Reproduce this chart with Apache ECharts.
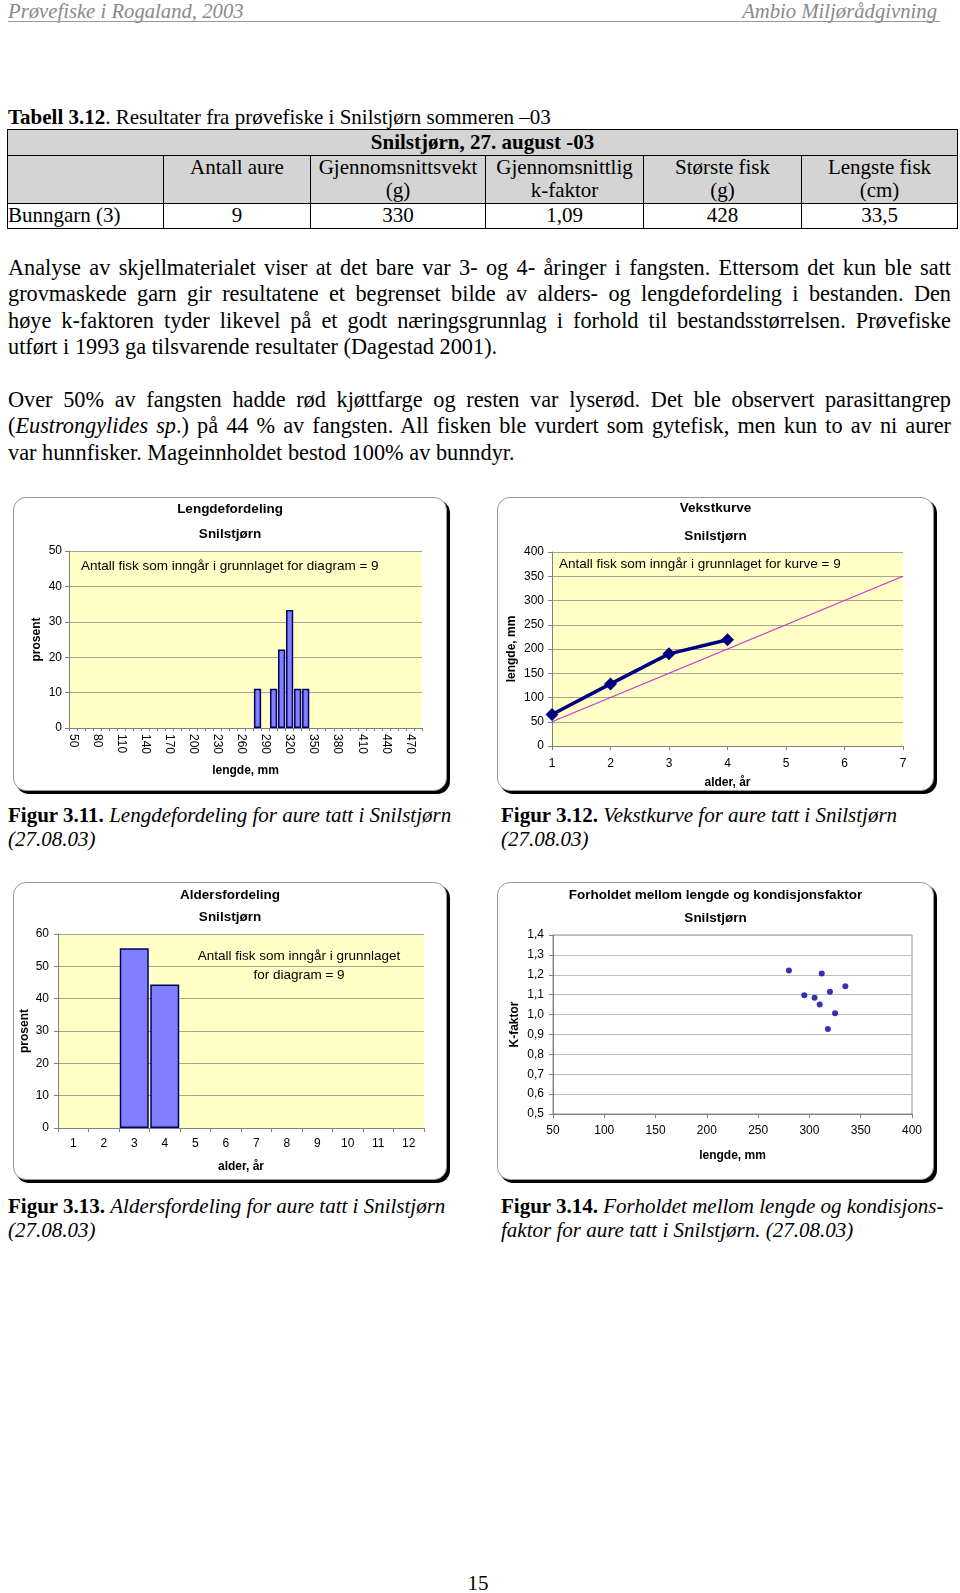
<!DOCTYPE html>
<html>
<head>
<meta charset="utf-8">
<script src="https://cdn.jsdelivr.net/npm/echarts/dist/echarts.min.js"></script>
<style>
  html, body { margin:0; padding:0; background:#fff; }
  body { width:960px; height:1593px; position:relative; overflow:hidden; font-family:"Liberation Serif","Times New Roman",serif; color:#000; }
  .abs { position:absolute; }
  .hdr { top:0; font-size:20.7px; font-style:italic; color:#8a8a8a; line-height:22px; }
  .hline { left:8px; top:21px; width:932px; height:0; border-top:1.5px solid #9a9a9a; }
  .txt { font-size:22.3px; line-height:26.4px; }
  .tcap { font-size:21px; line-height:26px; }
  .jl { text-align:justify; text-align-last:justify; white-space:nowrap; }
  table.t { border-collapse:collapse; table-layout:fixed; font-size:21px; }
  table.t td { border:1px solid #000; padding:0; text-align:center; vertical-align:top; line-height:23px; }
  .g { background:#d4d4d4; }
  .box { position:absolute; border:1px solid #9a9a9a; border-radius:13px; box-shadow:3px 3px 0 0 #000; background:#fff; }
  .cap { font-size:21px; line-height:24px; }
</style>
</head>
<body>
<div class="abs hdr" style="left:8px;">Prøvefiske i Rogaland, 2003</div>
<div class="abs hdr" style="right:23px;">Ambio Miljørådgivning</div>
<div class="abs hline"></div>

<div class="abs tcap" style="left:8px; top:104px;"><b>Tabell 3.12</b>. Resultater fra prøvefiske i Snilstjørn sommeren –03</div>

<table class="t abs" style="left:7px; top:129px; width:950px;">
  <colgroup><col style="width:156px"><col style="width:147px"><col style="width:175px"><col style="width:158px"><col style="width:158px"><col style="width:156px"></colgroup>
  <tr style="height:26px"><td class="g" colspan="6" style="font-weight:bold; line-height:25px;">Snilstjørn, 27. august -03</td></tr>
  <tr style="height:48px"><td class="g"></td><td class="g">Antall aure</td><td class="g">Gjennomsnittsvekt<br>(g)</td><td class="g">Gjennomsnittlig<br>k-faktor</td><td class="g">Største fisk<br>(g)</td><td class="g">Lengste fisk<br>(cm)</td></tr>
  <tr style="height:25px"><td style="text-align:left">Bunngarn (3)</td><td>9</td><td>330</td><td>1,09</td><td>428</td><td>33,5</td></tr>
</table>

<div class="abs txt" style="left:8px; top:255px; width:943px;">
  <div class="jl"><span>Analyse av skjellmaterialet viser at det bare var 3- og 4- åringer i fangsten. Ettersom det kun ble satt</span></div>
  <div class="jl"><span>grovmaskede garn gir resultatene et begrenset bilde av alders- og lengdefordeling i bestanden. Den</span></div>
  <div class="jl"><span>høye k-faktoren tyder likevel på et godt næringsgrunnlag i forhold til bestandsstørrelsen. Prøvefiske</span></div>
  <div style="white-space:nowrap">utført i 1993 ga tilsvarende resultater (Dagestad 2001).</div>
</div>
<div class="abs txt" style="left:8px; top:387px; width:943px;">
  <div class="jl"><span>Over 50% av fangsten hadde rød kjøttfarge og resten var lyserød. Det ble observert parasittangrep</span></div>
  <div class="jl"><span>(<i>Eustrongylides sp</i>.) på 44 % av fangsten. All fisken ble vurdert som gytefisk, men kun to av ni aurer</span></div>
  <div style="white-space:nowrap">var hunnfisker. Mageinnholdet bestod 100% av bunndyr.</div>
</div>

<div id="c1" class="box" style="left:13px; top:497px; width:432px; height:292px;"></div>
<div id="c2" class="box" style="left:497px; top:497px; width:435px; height:292px;"></div>
<div id="c3" class="box" style="left:13px; top:882px; width:432px; height:296px;"></div>
<div id="c4" class="box" style="left:497px; top:882px; width:435px; height:296px;"></div>

<div class="abs cap" style="left:8px; top:803px;"><b>Figur 3.11.</b> <i>Lengdefordeling for aure tatt i Snilstjørn<br>(27.08.03)</i></div>
<div class="abs cap" style="left:501px; top:803px;"><b>Figur 3.12.</b> <i>Vekstkurve for aure tatt i Snilstjørn<br>(27.08.03)</i></div>
<div class="abs cap" style="left:8px; top:1194px;"><b>Figur 3.13.</b> <i>Aldersfordeling for aure tatt i Snilstjørn<br>(27.08.03)</i></div>
<div class="abs cap" style="left:501px; top:1194px;"><b>Figur 3.14.</b> <i>Forholdet mellom lengde og kondisjons-<br>faktor for aure tatt i Snilstjørn. (27.08.03)</i></div>

<div class="abs" style="left:0; width:956px; top:1572px; text-align:center; font-size:21px; line-height:22px;">15</div>

<script>
// fit forced justified lines into the text column
document.querySelectorAll('.jl').forEach(function (el) {
  const span = el.querySelector('span');
  const w = span.getBoundingClientRect().width;
  const avail = el.getBoundingClientRect().width;
  if (w > avail - 2) {
    const n = span.textContent.length;
    el.style.letterSpacing = ((avail - 2 - w) / n) + 'px';
  }
});

// ---------- data ----------
// Figur 3.11 Lengdefordeling (length classes, mm) and percent
const lengthClasses = [50,60,70,80,90,100,110,120,130,140,150,160,170,180,190,200,210,220,230,240,250,260,270,280,290,300,310,320,330,340,350,360,370,380,390,400,410,420,430,440,450,460,470,480];
const lengthBins = [280, 300, 310, 320, 330, 340];
const lengthPercent = [11.1, 11.1, 22.2, 33.3, 11.1, 11.1];

// Figur 3.12 Vekstkurve
const growthAge = [1, 2, 3, 4];
const growthLength = [65, 128, 190, 219];
const refAge = [1, 7];
const refLength = [50, 350];

// Figur 3.13 Aldersfordeling
const ageClasses = ['1','2','3','4','5','6','7','8','9','10','11','12'];
const ageBins = ['3', '4'];
const agePercent = [55.6, 44.4];

// Figur 3.14 Lengde vs K-faktor
const kLength = [280, 295, 305, 310, 312, 318, 320, 325, 335];
const kFactor = [1.222, 1.097, 1.085, 1.051, 1.206, 0.927, 1.115, 1.006, 1.142];

// ---------- common styles ----------
const SANS = 'Liberation Sans, Arial, sans-serif';
const black = '#000';
const lbl = { fontFamily: SANS, fontSize: 12, color: black };
const nameStyle = { fontFamily: SANS, fontSize: 12, fontWeight: 'bold', color: black };
const titleStyle = { fontFamily: SANS, fontSize: 13.5, fontWeight: 'bold', color: black };
const axisGray = '#808080';
const yellow = '#ffffc6';
const gridLine = '#a6a690';
const noteFont = '13.5px ' + SANS;

function titles(t1, top1, top2) {
  return [
    { text: t1, left: 'center', top: top1, padding: 0, textStyle: titleStyle },
    { text: 'Snilstjørn', left: 'center', top: top2, padding: 0, textStyle: titleStyle }
  ];
}
function gridOf(l, t, w, h, extra) {
  return Object.assign({ left: l, top: t, width: w, height: h, containLabel: false, outerBoundsMode: 'none', show: true, borderWidth: 0, backgroundColor: yellow }, extra || {});
}

// ---------- chart 1 ----------
const c1 = echarts.init(document.getElementById('c1'), null, { renderer: 'canvas' });
const c1Data = lengthClasses.map(c => { const i = lengthBins.indexOf(c); return i >= 0 ? lengthPercent[i] : null; });
c1.setOption({
  animation: false,
  title: titles('Lengdefordeling', 4, 29),
  grid: gridOf(55, 53, 353, 177),
  xAxis: {
    type: 'category', data: lengthClasses.map(String),
    axisLine: { lineStyle: { color: axisGray } },
    axisTick: { show: true, interval: 0, length: 3, lineStyle: { color: axisGray } },
    axisLabel: Object.assign({ interval: 2, rotate: -90, margin: 6 }, lbl),
    name: 'lengde, mm', nameLocation: 'middle', nameGap: 37, nameMoveOverlap: false, nameTextStyle: nameStyle
  },
  yAxis: {
    type: 'value', min: 0, max: 50, interval: 10,
    axisLine: { show: true, lineStyle: { color: axisGray } },
    axisTick: { show: true, length: 4, lineStyle: { color: axisGray } },
    splitLine: { show: true, lineStyle: { color: gridLine } },
    axisLabel: Object.assign({ margin: 7 }, lbl),
    name: 'prosent', nameLocation: 'middle', nameGap: 26, nameMoveOverlap: false, nameTextStyle: nameStyle
  },
  series: [{
    type: 'bar', data: c1Data, barCategoryGap: '10%',
    itemStyle: { color: '#8080ff', borderColor: '#000060', borderWidth: 1.5 }
  }],
  graphic: [{ type: 'text', x: 67, y: 68, style: { text: 'Antall fisk som inngår i grunnlaget for diagram = 9', font: noteFont, fill: black, align: 'left', verticalAlign: 'middle' } }]
});

// ---------- chart 2 ----------
const c2 = echarts.init(document.getElementById('c2'), null, { renderer: 'canvas' });
c2.setOption({
  animation: false,
  title: titles('Vekstkurve', 3, 31),
  grid: gridOf(54, 54, 351, 194),
  xAxis: {
    type: 'value', min: 1, max: 7, interval: 1,
    axisLine: { show: true, lineStyle: { color: axisGray } },
    axisTick: { show: true, length: 4, lineStyle: { color: axisGray } },
    splitLine: { show: false },
    axisLabel: Object.assign({ margin: 12 }, lbl),
    name: 'alder, år', nameLocation: 'middle', nameGap: 31, nameMoveOverlap: false, nameTextStyle: nameStyle
  },
  yAxis: {
    type: 'value', min: 0, max: 400, interval: 50,
    axisLine: { show: true, lineStyle: { color: axisGray } },
    axisTick: { show: true, length: 4, lineStyle: { color: axisGray } },
    splitLine: { show: true, lineStyle: { color: gridLine } },
    axisLabel: Object.assign({ margin: 8 }, lbl),
    name: 'lengde, mm', nameLocation: 'middle', nameGap: 34, nameMoveOverlap: false, nameTextStyle: nameStyle
  },
  series: [
    { type: 'line', data: refAge.map((a, i) => [a, refLength[i]]), symbol: 'none',
      lineStyle: { color: '#cc33cc', width: 1.2 }, z: 2 },
    { type: 'line', data: growthAge.map((a, i) => [a, growthLength[i]]), symbol: 'diamond', symbolSize: 13,
      lineStyle: { color: '#000080', width: 3.5 }, itemStyle: { color: '#000080' }, z: 3 }
  ],
  graphic: [{ type: 'text', x: 61, y: 66, style: { text: 'Antall fisk som inngår i grunnlaget for kurve = 9', font: noteFont, fill: black, align: 'left', verticalAlign: 'middle' } }]
});

// ---------- chart 3 ----------
const c3 = echarts.init(document.getElementById('c3'), null, { renderer: 'canvas' });
const c3Data = ageClasses.map(c => { const i = ageBins.indexOf(c); return i >= 0 ? agePercent[i] : null; });
c3.setOption({
  animation: false,
  title: titles('Aldersfordeling', 5, 27),
  grid: gridOf(44, 51, 366, 194),
  xAxis: {
    type: 'category', data: ageClasses,
    axisLine: { lineStyle: { color: axisGray } },
    axisTick: { show: true, interval: 0, length: 4, lineStyle: { color: axisGray } },
    axisLabel: Object.assign({ interval: 0, margin: 10 }, lbl),
    name: 'alder, år', nameLocation: 'middle', nameGap: 33, nameMoveOverlap: false, nameTextStyle: nameStyle
  },
  yAxis: {
    type: 'value', min: 0, max: 60, interval: 10,
    axisLine: { show: true, lineStyle: { color: axisGray } },
    axisTick: { show: true, length: 4, lineStyle: { color: axisGray } },
    splitLine: { show: true, lineStyle: { color: gridLine } },
    axisLabel: Object.assign({ margin: 9 }, lbl),
    name: 'prosent', nameLocation: 'middle', nameGap: 27, nameMoveOverlap: false, nameTextStyle: nameStyle
  },
  series: [{
    type: 'bar', data: c3Data, barCategoryGap: '5%',
    itemStyle: { color: '#8080ff', borderColor: '#000060', borderWidth: 1.5 }
  }],
  graphic: [
    { type: 'text', x: 285, y: 73, style: { text: 'Antall fisk som inngår i grunnlaget', font: noteFont, fill: black, align: 'center', verticalAlign: 'middle' } },
    { type: 'text', x: 285, y: 92, style: { text: 'for diagram = 9', font: noteFont, fill: black, align: 'center', verticalAlign: 'middle' } }
  ]
});

// ---------- chart 4 ----------
const c4 = echarts.init(document.getElementById('c4'), null, { renderer: 'canvas' });
c4.setOption({
  animation: false,
  title: titles('Forholdet mellom lengde og kondisjonsfaktor', 5, 28),
  grid: gridOf(55, 52, 359, 179, { backgroundColor: '#fff', borderColor: '#909090', borderWidth: 1 }),
  xAxis: {
    type: 'value', min: 50, max: 400, interval: 50,
    axisLine: { show: true, lineStyle: { color: axisGray } },
    axisTick: { show: true, length: 4, lineStyle: { color: axisGray } },
    splitLine: { show: false },
    axisLabel: Object.assign({ margin: 11 }, lbl),
    name: 'lengde, mm', nameLocation: 'middle', nameGap: 36, nameMoveOverlap: false, nameTextStyle: nameStyle
  },
  yAxis: {
    type: 'value', min: 0.5, max: 1.4, interval: 0.1,
    axisLine: { show: true, lineStyle: { color: axisGray } },
    axisTick: { show: true, length: 4, lineStyle: { color: axisGray } },
    splitLine: { show: true, lineStyle: { color: '#bdbdbd' } },
    axisLabel: Object.assign({ margin: 9, formatter: v => v.toFixed(1).replace('.', ',') }, lbl),
    name: 'K-faktor', nameLocation: 'middle', nameGap: 32, nameMoveOverlap: false, nameTextStyle: nameStyle
  },
  series: [{
    type: 'scatter', data: kLength.map((l, i) => [l, kFactor[i]]), symbol: 'circle', symbolSize: 6,
    itemStyle: { color: '#0000a0' }
  }]
});
</script>
</body>
</html>
